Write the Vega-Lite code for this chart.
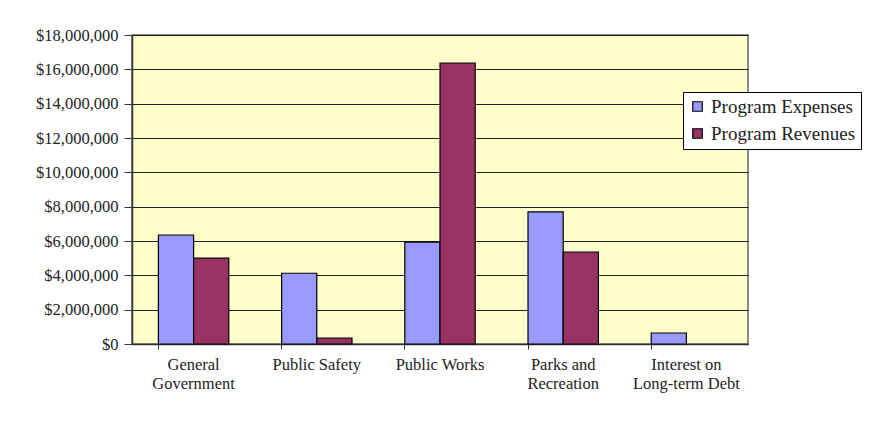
{
  "$schema": "https://vega.github.io/schema/vega-lite/v6.json",
  "autosize": "none",
  "width": 616,
  "height": 309,
  "padding": {"left": 132, "top": 35, "right": 132, "bottom": 78},
  "background": "white",
  "config": {
    "font": "Liberation Serif",
    "view": {"fill": "#FFFFCC", "stroke": "#666666", "strokeWidth": 1.5}
  },
  "data": {
    "values": [
      {"category": "General Government", "series": "Program Expenses", "amount": 6350000},
      {"category": "General Government", "series": "Program Revenues", "amount": 5000000},
      {"category": "Public Safety", "series": "Program Expenses", "amount": 4120000},
      {"category": "Public Safety", "series": "Program Revenues", "amount": 350000},
      {"category": "Public Works", "series": "Program Expenses", "amount": 5940000},
      {"category": "Public Works", "series": "Program Revenues", "amount": 16370000},
      {"category": "Parks and Recreation", "series": "Program Expenses", "amount": 7700000},
      {"category": "Parks and Recreation", "series": "Program Revenues", "amount": 5360000},
      {"category": "Interest on Long-term Debt", "series": "Program Expenses", "amount": 640000}
    ]
  },
  "mark": {"type": "bar", "stroke": "black", "strokeWidth": 1.2},
  "encoding": {
    "x": {
      "field": "category",
      "type": "nominal",
      "sort": null,
      "scale": {"paddingInner": 0.4286, "paddingOuter": 0.2143},
      "axis": {
        "title": null,
        "labelAngle": 0,
        "labelFontSize": 16.5,
        "labelColor": "#222222",
        "labelPadding": 7,
        "labelLineHeight": 19,
        "bandPosition": 0,
        "tickColor": "#333333",
        "tickSize": 5,
        "domainColor": "#333333",
        "domainWidth": 1.5,
        "labelExpr": "datum.value == 'General Government' ? ['General', 'Government'] : datum.value == 'Parks and Recreation' ? ['Parks and', 'Recreation'] : datum.value == 'Interest on Long-term Debt' ? ['Interest on', 'Long-term Debt'] : datum.value"
      }
    },
    "xOffset": {"field": "series", "type": "nominal", "scale": {"domain": ["Program Expenses", "Program Revenues"], "paddingInner": 0, "paddingOuter": 0}},
    "y": {
      "field": "amount",
      "type": "quantitative",
      "scale": {"domain": [0, 18000000], "nice": false},
      "axis": {
        "title": null,
        "values": [0, 2000000, 4000000, 6000000, 8000000, 10000000, 12000000, 14000000, 16000000, 18000000],
        "format": "$,.0f",
        "labelFontSize": 16.5,
        "labelColor": "#222222",
        "labelPadding": 6,
        "tickColor": "#333333",
        "tickSize": 8,
        "domainColor": "#333333",
        "domainWidth": 1.5,
        "grid": true,
        "gridColor": "#222222",
        "gridWidth": 1.2
      }
    },
    "color": {
      "field": "series",
      "type": "nominal",
      "scale": {"domain": ["Program Expenses", "Program Revenues"], "range": ["#9999FF", "#993366"]},
      "legend": {
        "title": null,
        "orient": "none",
        "legendX": 551,
        "legendY": 57,
        "direction": "vertical",
        "symbolType": "square",
        "symbolSize": 90,
        "symbolStrokeColor": "black",
        "symbolStrokeWidth": 1.2,
        "labelFontSize": 19,
        "labelColor": "#222222",
        "labelOffset": 4,
        "rowPadding": 7,
        "padding": 5,
        "strokeColor": "black",
        "fillColor": "white"
      }
    }
  }
}
